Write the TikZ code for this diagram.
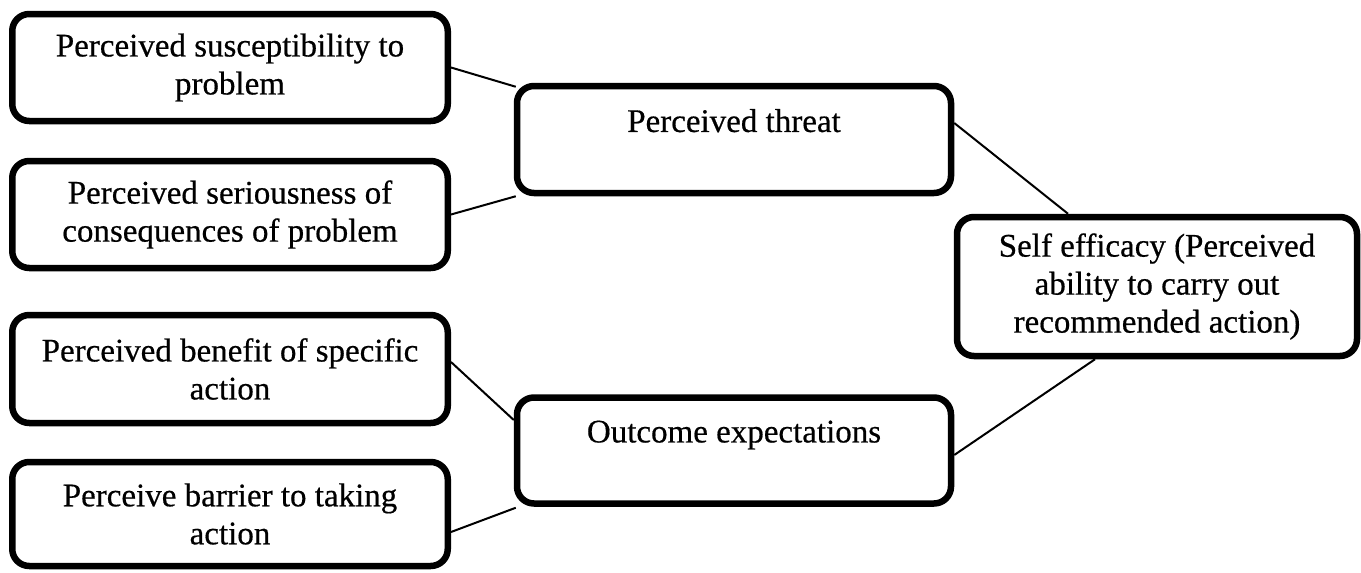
\documentclass[tikz,border=0pt]{standalone}
\usepackage{fontspec}
\setmainfont{Liberation Serif}[FakeBold=0.5]
\begin{document}
\begin{tikzpicture}[x=1pt,y=-1pt,
  box/.style={draw=black, line width=6.5pt, rounded corners=17pt, fill=white,
    align=center, inner sep=0pt, font=\fontsize{33}{38}\selectfont},
  leftbox/.style={box, minimum width=435.5pt, minimum height=107pt},
  midbox/.style={box, minimum width=434pt, minimum height=107pt},
  link/.style={draw=black, line width=2pt}]
\useasboundingbox[fill=white] (0,0) rectangle (1361,573);
\node[leftbox] (b1) at (230,67.5) {Perceived susceptibility to\\problem};
\node[leftbox] (b2) at (230,214.5) {Perceived seriousness of\\consequences of problem};
\node[leftbox, minimum height=108pt] (b3) at (230,369) {Perceived benefit of specific\\action};
\node[leftbox, minimum height=104pt] (b4) at (230,514) {Perceive barrier to taking\\action};
\node[midbox] (threat) at (734,139.5) {Perceived threat\\\mbox{}};
\node[midbox, minimum height=106pt] (outcome) at (734,450.5) {Outcome expectations\\\mbox{}};
\node[box, minimum width=400pt, minimum height=139pt] (self) at (1157,286.5) {Self efficacy (Perceived\\ability to carry out\\recommended action)};
\draw[link] (b1.east) -- ([shift={(2pt,-4pt)}]threat.north west);
\draw[link] (b2.east) -- ([xshift=2pt]threat.south west);
\draw[link] ([yshift=7pt]b3.east) -- ([yshift=30.5pt]outcome.west);
\draw[link] ([yshift=-18pt]b4.east) -- ([shift={(2pt,-1pt)}]outcome.south west);
\draw[link] ([yshift=16.5pt]threat.east) -- ([xshift=-89pt]self.north);
\draw[link] ([yshift=-4.5pt]outcome.east) -- ([xshift=-62pt]self.south);
\end{tikzpicture}
\end{document}
